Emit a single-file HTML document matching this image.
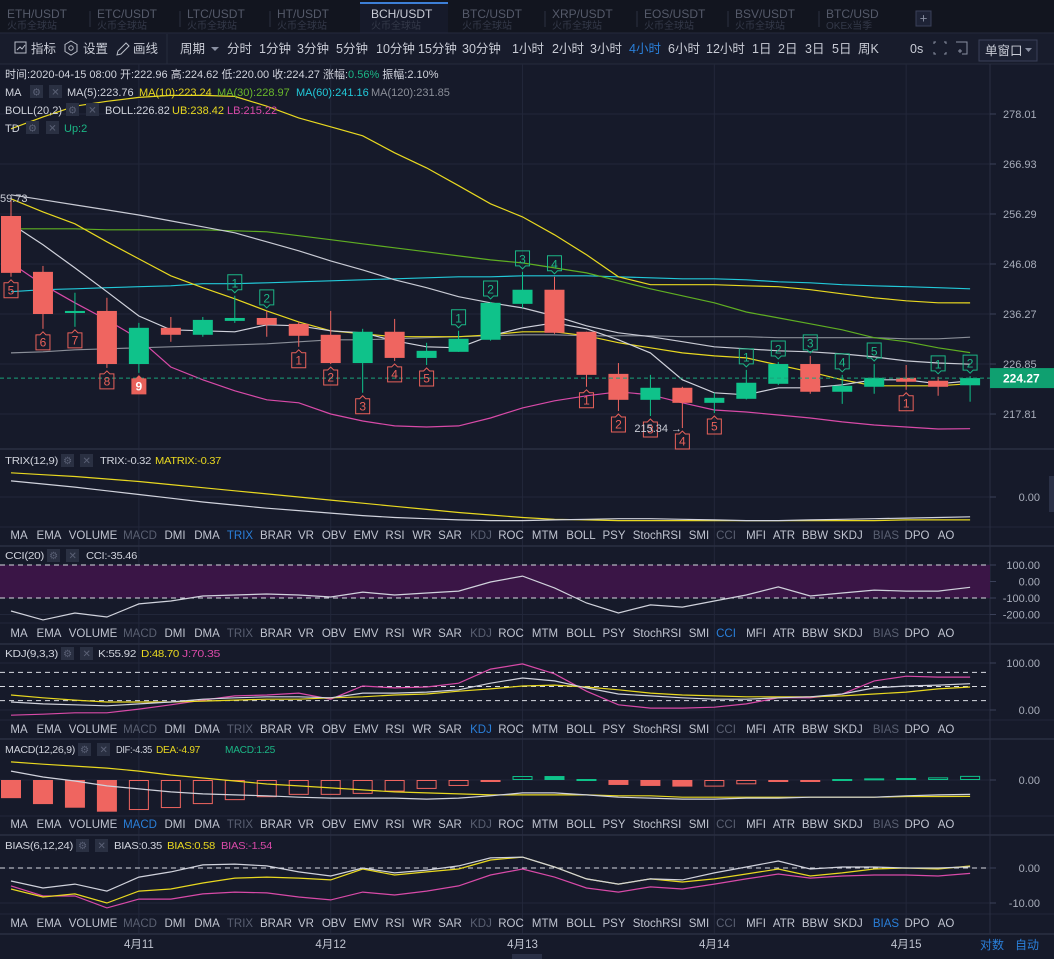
<!DOCTYPE html>
<html><head><meta charset="utf-8">
<style>
html,body{margin:0;padding:0;background:#161a2a;overflow:hidden}
svg{display:block;font-family:"Liberation Sans","Noto Sans CJK SC",sans-serif}
</style></head>
<body>
<svg id="chart" width="1054" height="959" viewBox="0 0 1054 959" xmlns="http://www.w3.org/2000/svg">
  <rect x="0" y="0" width="1054" height="959" fill="#161a2a"/>
  <g>
    <rect x="0" y="0" width="1054" height="33" fill="#12151f"/>
    <rect x="360" y="2" width="88" height="2" fill="#3d7fd6"/>
    <rect x="360" y="4" width="88" height="29" fill="#161a2a"/>
    <line x1="0" y1="33" x2="1054" y2="33" stroke="#262b3d"/>
  </g>
  <g id="tabs" font-size="12"></g>
  <rect x="916" y="11" width="15" height="15" fill="#1e2336" stroke="#3a4058"/>
  <text x="923.5" y="22.5" font-size="13" fill="#8a90a2" text-anchor="middle">+</text>
  <g>
    <rect x="0" y="34" width="1054" height="30" fill="#181c2c"/>
    <line x1="0" y1="64" x2="1054" y2="64" stroke="#262b3d"/>
    <line x1="167" y1="34" x2="167" y2="64" stroke="#262b3d"/>
    <rect x="15" y="42" width="11" height="11" fill="none" stroke="#b9bdc8"/>
    <polyline points="17,50 20,47 22,49 25,45" fill="none" stroke="#b9bdc8"/>
    <text x="31" y="53" font-size="12.5" fill="#c9ccd6">指标</text>
    <polygon points="71,41 77,44.5 77,51.5 71,55 65,51.5 65,44.5" fill="none" stroke="#b9bdc8"/>
    <circle cx="71" cy="48" r="2.2" fill="none" stroke="#b9bdc8"/>
    <text x="83" y="53" font-size="12.5" fill="#c9ccd6">设置</text>
    <path d="M117,55 L118,51 L126,43 L129,46 L121,54 Z" fill="none" stroke="#b9bdc8"/>
    <text x="133" y="53" font-size="12.5" fill="#c9ccd6">画线</text>
    <text x="180" y="53" font-size="12.5" fill="#c9ccd6">周期</text>
    <polygon points="211,47 219,47 215,51" fill="#8a90a2"/>
  </g>
  <g id="periods" font-size="12.5"></g>
  <text x="910" y="53" font-size="12.5" fill="#c9ccd6">0s</text>
  <g stroke="#8a90a2" fill="none">
    <path d="M934,44 v-2 h2 M944,42 h2 v2 M934,52 v2 h2 M944,54 h2 v-2"/>
  </g>
  <g stroke="#8a90a2" fill="none">
    <path d="M956,42 h11 v12 h-5 M958,51 h4 M960,49 v4"/>
  </g>
  <rect x="979" y="40" width="58" height="21" fill="#1c2133" stroke="#3a4058"/>
  <text x="985" y="55" font-size="12.5" fill="#c9ccd6">单窗口</text>
  <polygon points="1025,48 1032,48 1028.5,52" fill="#8a90a2"/>

  <g id="grid"></g>
  <rect x="0" y="565" width="990" height="33" fill="#3a1546"/>
  <g id="marks"></g>
  <g id="labels"></g>

  <g font-size="11" fill="#d0d3dc">
    <text x="5" y="78">时间:2020-04-15 08:00  开:222.96  高:224.62  低:220.00  收:224.27  涨幅:<tspan fill="#1bb585">0.56%</tspan>  振幅:2.10%</text>
  </g>
  <g font-size="11">
    <text x="5" y="96" fill="#d0d3dc">MA</text>
    <rect x="30" y="85" width="13" height="13" fill="#2a3042"/><text x="36.5" y="95.5" fill="#5a6075" font-size="10" text-anchor="middle">⚙</text>
    <rect x="49" y="85" width="13" height="13" fill="#2a3042"/><text x="55.5" y="95.5" fill="#5a6075" font-size="10" text-anchor="middle">✕</text>
    <text x="67" y="96" fill="#d0d3dc">MA(5):223.76</text>
    <text x="139" y="96" fill="#e8d820">MA(10):223.24</text>
    <text x="217" y="96" fill="#6ab82c">MA(30):228.97</text>
    <text x="296" y="96" fill="#22c8d8">MA(60):241.16</text>
    <text x="371" y="96" fill="#8a8e98">MA(120):231.85</text>
  </g>
  <g font-size="11">
    <text x="5" y="114" fill="#d0d3dc" textLength="57">BOLL(20,2)</text>
    <rect x="66" y="103" width="13" height="13" fill="#2a3042"/><text x="72.5" y="113.5" fill="#5a6075" font-size="10" text-anchor="middle">⚙</text>
    <rect x="86" y="103" width="13" height="13" fill="#2a3042"/><text x="92.5" y="113.5" fill="#5a6075" font-size="10" text-anchor="middle">✕</text>
    <text x="105" y="114" fill="#d0d3dc">BOLL:226.82</text>
    <text x="172" y="114" fill="#e8d820">UB:238.42</text>
    <text x="227" y="114" fill="#d84aa8">LB:215.22</text>
  </g>
  <g font-size="11">
    <text x="5" y="132" fill="#d0d3dc">TD</text>
    <rect x="26" y="121" width="13" height="13" fill="#2a3042"/><text x="32.5" y="131.5" fill="#5a6075" font-size="10" text-anchor="middle">⚙</text>
    <rect x="46" y="121" width="13" height="13" fill="#2a3042"/><text x="52.5" y="131.5" fill="#5a6075" font-size="10" text-anchor="middle">✕</text>
    <text x="64" y="132" fill="#1bb585">Up:2</text>
  </g>
  <g id="paneTitles" font-size="10.5" letter-spacing="-0.3"></g>
  <rect x="1049" y="476" width="5" height="36" fill="#2a3046"/>
  <text x="980" y="949" font-size="12" fill="#2a7fd9">对数</text>
  <text x="1015" y="949" font-size="12" fill="#2a7fd9">自动</text>
  <rect x="512" y="954" width="30" height="5" fill="#2a3046"/>
</svg>
<script>
const candleOpen  = [255.88,244.51,236.46,236.86,226.85,233.63,232.31,234.95,235.51,234.38,232.31,227.03,232.88,227.98,229.11,231.37,238.23,240.98,232.88,225.04,220.34,222.51,219.80,220.52,223.23,226.85,221.79,222.69,224.32,223.78,222.96];
const candleHigh  = [259.73,245.69,240.39,239.41,234.57,235.70,235.70,239.80,236.86,234.76,236.86,233.44,235.33,230.80,233.07,238.60,244.51,243.53,232.90,227.03,224.86,222.69,221.61,225.77,227.23,228.36,224.86,226.85,226.67,224.50,224.62];
const candleLow   = [243.53,233.44,233.82,226.13,225.22,230.99,231.94,234.57,231.94,230.05,226.85,221.61,227.42,226.67,229.11,231.20,237.45,232.50,222.69,218.35,217.46,215.34,217.99,220.40,223.00,221.43,219.62,221.43,222.15,221.07,220.00];
const candleClose = [244.31,236.27,236.86,226.85,233.63,232.31,235.14,235.51,234.20,232.12,227.03,232.88,227.98,229.30,231.56,238.43,240.98,232.69,224.86,220.34,222.51,219.80,220.70,223.42,226.85,221.79,222.87,224.32,223.60,222.69,224.27];
const ma5   = [254.25,249.96,245.30,240.59,235.89,233.26,233.07,232.88,234.20,234.01,233.07,232.69,231.18,230.05,229.86,232.12,233.63,234.57,233.44,231.37,228.92,223.96,221.61,221.25,222.51,222.51,223.05,223.96,223.96,223.23,223.76];
const ma10  = [259.48,256.72,254.25,250.57,247.10,243.73,241.37,239.21,236.86,234.76,233.07,232.50,231.94,231.94,231.94,232.31,232.88,232.88,232.12,230.81,229.86,228.92,228.36,227.98,226.67,225.40,223.96,222.87,222.87,222.87,223.24];
const ma30  = [253.23,253.23,253.23,253.02,253.02,253.02,253.02,252.82,252.61,251.80,250.98,250.16,249.35,248.53,247.71,246.90,246.29,245.30,244.31,242.74,241.17,239.80,238.43,236.66,235.52,234.39,233.26,231.75,231.00,229.86,228.97];
const ma60  = [240.59,240.98,241.17,241.37,241.57,241.76,242.16,242.16,242.35,242.55,242.74,242.94,243.14,243.33,243.53,243.53,243.73,243.73,243.73,243.53,243.33,243.14,243.14,242.94,242.55,242.35,241.96,241.76,241.57,241.37,241.16];
const ma120 = [228.92,229.11,229.49,229.68,229.86,230.05,230.24,230.43,230.62,230.99,231.37,231.37,231.56,231.75,231.94,232.12,232.31,232.31,232.12,232.12,232.12,231.94,231.94,231.94,231.75,231.75,231.75,231.75,231.56,231.56,231.85];
const bollMid = [260.33,259.27,258.20,257.14,256.09,254.86,253.64,252.41,250.57,248.73,246.69,244.90,242.94,241.37,239.61,238.43,237.45,235.89,234.01,232.69,231.94,231.00,230.05,229.68,229.30,229.11,228.73,228.17,227.42,227.04,226.82];
const bollUb  = [274.69,277.35,279.79,280.90,281.80,282.25,282.25,282.02,279.79,277.12,275.13,273.13,269.37,266.08,262.25,258.42,255.68,252.00,247.92,243.53,241.96,241.96,241.96,241.76,241.57,240.98,240.19,239.41,238.82,238.43,238.42];
const bollLb  = [246.28,241.96,238.43,235.14,231.56,226.31,223.96,221.97,220.34,219.80,217.81,216.58,215.71,215.53,215.71,217.11,218.89,220.16,221.07,221.79,221.25,219.80,218.53,218.17,217.64,217.11,216.41,215.88,215.53,215.18,215.22];
const tdDownIdx = [0,1,2,3,4,9,10,11,12,13,18,19,20,21,22,28];
const tdDownLbl = ['5','6','7','8','9','1','2','3','4','5','1','2','3','4','5','1'];
const tdUpIdx = [7,8,14,15,16,17,23,24,25,26,27,29,30];
const tdUpLbl = ['1','2','1','2','3','4','1','2','3','4','5','1','2'];
const priceTicks = [278.01,266.93,256.29,246.08,236.27,226.85,217.81];
const lastPrice = 224.27;
const dateLabels = ['4月11','4月12','4月13','4月14','4月15'];
const dateIdx = [4,10,16,22,28];
const trix   = [0.26,0.21,0.16,0.10,0.04,-0.02,-0.08,-0.13,-0.18,-0.22,-0.26,-0.30,-0.33,-0.35,-0.37,-0.38,-0.38,-0.37,-0.36,-0.35,-0.35,-0.36,-0.37,-0.38,-0.38,-0.37,-0.36,-0.35,-0.34,-0.33,-0.32];
const matrix = [0.39,0.36,0.33,0.29,0.25,0.20,0.15,0.10,0.05,0.00,-0.05,-0.10,-0.15,-0.20,-0.25,-0.29,-0.33,-0.36,-0.37,-0.38,-0.38,-0.38,-0.38,-0.38,-0.38,-0.38,-0.38,-0.38,-0.37,-0.37,-0.37];
const cci = [-179,-233,-191,-215,-136,-118,-88,-82,-76,-82,-94,-64,-82,-70,-58,-3,33,-39,-130,-191,-142,-155,-118,-82,-33,-88,-70,-52,-58,-58,-35];
const kdjK = [17,13,11,9,13,17,23,26,28,28,26,36,36,38,43,57,68,62,47,34,30,26,23,23,26,28,34,47,51,53,56];
const kdjD = [32,26,21,17,17,17,19,21,23,23,26,28,32,34,40,45,51,53,49,43,36,32,30,28,28,28,30,34,38,45,49];
const kdjJ = [-11,-9,-6,-6,2,11,21,30,32,36,23,51,47,49,57,87,98,77,40,11,4,4,6,13,26,26,34,62,72,70,70];
const macdHist = [-5.5,-7.3,-8.4,-9.6,-9.1,-8.5,-7.3,-6.1,-5.2,-4.5,-4.5,-4.2,-3.5,-2.7,-1.8,-0.6,1.2,1.2,0.3,-1.5,-1.8,-2.0,-2.0,-1.3,-0.4,-0.4,0.3,0.5,0.6,0.8,1.25];
const macdFilled = [1,1,1,1,0,0,0,0,0,0,0,0,0,0,0,1,0,1,1,1,1,1,0,0,1,1,1,0,0,0,0];
const macdDif = [2.7,0.9,-0.3,-1.8,-2.7,-3.6,-4.2,-4.5,-4.8,-5.2,-5.5,-5.5,-5.5,-5.8,-5.5,-4.8,-3.9,-3.9,-4.5,-5.2,-5.5,-5.8,-5.8,-5.5,-5.5,-5.2,-5.2,-5.2,-4.8,-4.5,-4.35];
const macdDea = [5.5,4.8,4.2,3.6,2.7,1.5,0.6,-0.3,-1.2,-1.8,-2.4,-3.0,-3.6,-3.9,-4.2,-4.5,-4.5,-4.5,-4.5,-4.8,-4.8,-5.2,-5.2,-5.2,-5.2,-5.2,-5.2,-5.2,-5.0,-5.0,-4.97];
const bias6  = [-3.7,-5.7,-4.6,-6.6,-2.6,-1.1,0.9,1.1,0.6,-1.1,-2.3,0,-1.4,-0.6,0.6,2.9,3.1,0.3,-3.1,-4.6,-3.1,-3.4,-1.4,0.3,2.0,-0.3,0.3,0.3,0,0,0.35];
const bias12 = [-6.0,-8.3,-7.4,-10.0,-6.6,-6.0,-4.3,-2.9,-2.6,-2.9,-3.4,-0.3,-2.0,-1.1,-0.3,2.3,3.1,0.3,-3.1,-4.6,-3.1,-4.0,-3.1,-1.7,-0.3,-2.3,-1.4,-0.3,0,-0.3,0.58];
const bias24 = [-5.1,-8.0,-8.0,-11.4,-8.9,-8.9,-7.4,-6.9,-7.1,-8.3,-9.1,-6.9,-7.7,-6.6,-5.1,-2.0,-0.3,-2.6,-5.7,-6.9,-5.4,-6.0,-4.6,-3.1,-1.7,-2.9,-2.3,-2.0,-2.0,-2.3,-1.54];
const tabNames = ['ETH/USDT','ETC/USDT','LTC/USDT','HT/USDT','BCH/USDT','BTC/USDT','XRP/USDT','EOS/USDT','BSV/USDT','BTC/USD'];
const tabSubs = ['火币全球站','火币全球站','火币全球站','火币全球站','火币全球站','火币全球站','火币全球站','火币全球站','火币全球站','OKEx当季'];
const periodNames = ['分时','1分钟','3分钟','5分钟','10分钟','15分钟','30分钟','1小时','2小时','3小时','4小时','6小时','12小时','1日','2日','3日','5日','周K'];
const indNames = ['MA','EMA','VOLUME','MACD','DMI','DMA','TRIX','BRAR','VR','OBV','EMV','RSI','WR','SAR','KDJ','ROC','MTM','BOLL','PSY','StochRSI','SMI','CCI','MFI','ATR','BBW','SKDJ','BIAS','DPO','AO'];
</script>
<script>
const NS='http://www.w3.org/2000/svg';
function mk(parent,tag,attrs,txt){const e=document.createElementNS(NS,tag);for(const k in attrs)e.setAttribute(k,attrs[k]);if(txt!==undefined)e.textContent=txt;parent.appendChild(e);return e;}
const X = i => 11 + i*31.97;
const LN0 = Math.log(278.01), K = 0.0008134;
const yP = p => 114 + (LN0 - Math.log(p))/K;
const yTrix = v => 497 - v*62;
const yCci = v => 581.5 - v*0.165;
const yKdj = v => 710 - v*0.47;
const yMacd = v => 780 - v*3.3;
const yBias = v => 868 - v*3.5;
const RED='#ef6560', GREEN='#0fc28a';

const tabs=document.getElementById('tabs');
const tabX=[7,97,187,277,371,462,552,644,735,826];
tabNames.forEach((n,i)=>{
  const g=mk(tabs,'g',{});
  
  
  mk(g,'text',{x:tabX[i],y:18,fill:i===4?'#c9ccd6':'#555a6a','font-size':12},n);
  mk(g,'text',{x:tabX[i],y:29,fill:'#343949','font-size':10},tabSubs[i]);
  if(i>0&&i!==4&&i!==5) mk(tabs,'line',{x1:tabX[i]-7,y1:11,x2:tabX[i]-7,y2:27,stroke:'#2c3142'});
});
const per=document.getElementById('periods');
const perX=[227,259,297,336,376,418,462,512,552,590,629,668,706,752,778,805,832,858];
periodNames.forEach((n,i)=>{
  const t=mk(per,'text',{x:perX[i],y:53,fill:n==='4小时'?'#2a7fd9':'#c9ccd6'},n);
  
  
});

const grid=document.getElementById('grid');
const GC='#22273a';
priceTicks.forEach(p=>{const l=mk(grid,'line',{x1:0,x2:990,y1:yP(p),y2:yP(p),stroke:GC});});
dateIdx.forEach(i=>{const l=mk(grid,'line',{x1:X(i),x2:X(i),y1:64,y2:934,stroke:GC});});
[[497],[565,581.5,598,614.5],[663,710],[780],[868,903]].flat().forEach(y=>mk(grid,'line',{x1:0,x2:990,y1:y,y2:y,stroke:GC}));
[[449,1],[527,0],[546,1],[623,0],[644,1],[720,0],[739,1],[816,0],[835,1],[914,0],[934,1]].forEach(([y,s])=>mk(grid,'line',{x1:0,x2:1054,y1:y,y2:y,stroke:s?'#2a2f42':'#22273a','stroke-width':s?1.5:1}));
mk(grid,'line',{x1:990,x2:990,y1:64,y2:934,stroke:'#2a2f42'});

const marks=document.getElementById('marks');
const labels=document.getElementById('labels');
function line(arr,yf,color,name,w){
  const pts=arr.map((v,i)=>X(i).toFixed(1)+','+yf(v).toFixed(1)).join(' ');
  const p=mk(marks,'polyline',{points:pts,fill:'none',stroke:color,'stroke-width':w||1.2});
  
  
}
line(ma120,yP,'#8a8e98','ma120-line');
line(ma60,yP,'#22c8d8','ma60-line');
line(ma30,yP,'#5fae22','ma30-line');
line(bollUb,yP,'#e8d820','boll-ub-line');
line(bollLb,yP,'#d84aa8','boll-lb-line');
line(bollMid,yP,'#c8cad4','boll-mid-line');
line(ma10,yP,'#e8d820','ma10-line');
line(ma5,yP,'#d0d2dc','ma5-line');
candleOpen.forEach((o,i)=>{
  const c=candleClose[i], up=c>=o, col=up?GREEN:RED, x=X(i);
  const g=mk(marks,'g',{});
  
  
  mk(g,'line',{x1:x,x2:x,y1:yP(candleHigh[i]),y2:yP(candleLow[i]),stroke:col,'stroke-width':1});
  const t=yP(Math.max(o,c)), b=yP(Math.min(o,c));
  mk(g,'rect',{x:x-10,y:t,width:20,height:Math.max(1.5,b-t),fill:col});
});
const lpY=yP(lastPrice);
const cl=mk(marks,'line',{x1:0,x2:990,y1:lpY,y2:lpY,stroke:'#1aa27a','stroke-dasharray':'4,3'});


const tag=mk(labels,'rect',{x:990,y:lpY-10,width:64,height:20,fill:'#0fa070'});


mk(labels,'text',{x:1003,y:lpY+4.5,fill:'#ffffff','font-size':12,'font-weight':'bold'},lastPrice.toFixed(2));
function tdBox(i,lbl,down,filled){
  const x=X(i), col=down?'#e8615a':'#1bb585';
  const cy=down? yP(candleLow[i])+13 : yP(candleHigh[i])-13;
  const g=mk(marks,'g',{});
  
  
  if(down){
    mk(g,'path',{d:`M${x-7},${cy-7} h4 l3,-3 l3,3 h4 v15 h-14 z`,fill:filled?col:'none',stroke:col,'stroke-width':1});
  } else {
    mk(g,'path',{d:`M${x-7},${cy-8} h14 v15 h-4 l-3,3 l-3,-3 h-4 z`,fill:'none',stroke:col,'stroke-width':1});
  }
  mk(g,'text',{x:x,y:cy+4.5,'text-anchor':'middle','font-size':12,'font-weight':filled?'bold':'normal',fill:filled?'#fff':col},lbl);
}
tdDownIdx.forEach((idx,k)=>tdBox(idx,tdDownLbl[k],true,tdDownLbl[k]==='9'));
tdUpIdx.forEach((idx,k)=>tdBox(idx,tdUpLbl[k],false,false));
mk(labels,'text',{x:0,y:202,fill:'#c9ccd6','font-size':11},candleHigh[0].toFixed(2).slice(1));
const li=candleLow.indexOf(Math.min(...candleLow));
mk(labels,'text',{x:X(li)-48,y:yP(candleLow[li])+4,fill:'#c9ccd6','font-size':11},candleLow[li].toFixed(2)+' →');
priceTicks.forEach(p=>{
  mk(labels,'line',{x1:990,x2:996,y1:yP(p),y2:yP(p),stroke:'#3a4058'});
  const t=mk(labels,'text',{x:1003,y:yP(p)+4,fill:'#a8adba','font-size':11},p.toFixed(2));
  
  
});
function axisLbl(v,y,txt){mk(labels,'line',{x1:990,x2:996,y1:y,y2:y,stroke:'#3a4058'});mk(labels,'text',{x:1040,y:y+4,fill:'#a8adba','font-size':11,'text-anchor':'end'},txt);}
axisLbl(0,yTrix(0),'0.00');
[100,0,-100,-200].forEach(v=>axisLbl(v,yCci(v),v.toFixed(2)));
[100,0].forEach(v=>axisLbl(v,yKdj(v),v.toFixed(2)));
axisLbl(0,yMacd(0),'0.00');
[0,-10].forEach(v=>axisLbl(v,yBias(v),v.toFixed(2)));
function dash(y,name){const l=mk(marks,'line',{x1:0,x2:990,y1:y,y2:y,stroke:'#d8dae2','stroke-dasharray':'5,4'});}
dash(yCci(100),'cci-upper-ref');dash(yCci(-100),'cci-lower-ref');
dash(yKdj(80),'kdj-80-ref');dash(yKdj(50),'kdj-50-ref');dash(yKdj(20),'kdj-20-ref');
dash(yBias(0),'bias-zero-ref');
line(matrix,yTrix,'#e8d820','matrix-line');
line(trix,yTrix,'#d0d2dc','trix-line');
line(cci,yCci,'#d0d2dc','cci-line');
line(kdjJ,yKdj,'#d84aa8','kdj-j-line');
line(kdjD,yKdj,'#e8d820','kdj-d-line');
line(kdjK,yKdj,'#d0d2dc','kdj-k-line');
macdHist.forEach((v,i)=>{
  const col=v>=0?GREEN:RED, y0=yMacd(0), y1=yMacd(v);
  const t=Math.min(y0,y1), h=Math.max(2,Math.abs(y1-y0));
  const r=macdFilled[i]?mk(marks,'rect',{x:X(i)-10,y:t,width:20,height:h,fill:col}):mk(marks,'rect',{x:X(i)-9.5,y:t+0.5,width:19,height:h-1,fill:'none',stroke:col});
  
  
});
line(macdDea,yMacd,'#e8d820','macd-dea-line');
line(macdDif,yMacd,'#d0d2dc','macd-dif-line');
line(bias24,yBias,'#d84aa8','bias24-line');
line(bias12,yBias,'#e8d820','bias12-line');
line(bias6,yBias,'#d0d2dc','bias6-line');
const indX=[19,49,93,140,175,207,240,276,306,334,366,395,422,450,481,511,545,581,614,657,699,726,756,784,815,848,886,917,946];
const rows=[[535,'TRIX'],[633,'CCI'],[729,'KDJ'],[824,'MACD'],[923,'BIAS']];
const dimSet=['MACD','TRIX','KDJ','CCI','BIAS'];
rows.forEach(([y,act])=>{
  indNames.forEach((n,i)=>{
    const c=n===act?'#2a7fd9':(dimSet.includes(n)?'#5a6072':'#c0c4d0');
    const t=mk(labels,'text',{x:indX[i],y:y+4,'text-anchor':'middle','font-size':11.5,fill:c},n);
    
    
  });
});
dateIdx.forEach((idx,k)=>{
  const t=mk(labels,'text',{x:X(idx),y:948,'text-anchor':'middle','font-size':11.5,fill:'#c0c4d0'},dateLabels[k]);
  
  
});
const pt=document.getElementById('paneTitles');
function title(y,name,gx,items){
  mk(pt,'text',{x:5,y:y+4,fill:'#d0d3dc',textLength:gx-8,lengthAdjust:'spacingAndGlyphs'},name);
  mk(pt,'rect',{x:gx,y:y-6,width:13,height:13,fill:'#2a3042'});
  mk(pt,'text',{x:gx+6.5,y:y+4,fill:'#5a6075','font-size':10,'text-anchor':'middle'},'⚙');
  mk(pt,'rect',{x:gx+19,y:y-6,width:13,height:13,fill:'#2a3042'});
  mk(pt,'text',{x:gx+25.5,y:y+4,fill:'#5a6075','font-size':10,'text-anchor':'middle'},'✕');
  items.forEach(([x,c,t,w])=>mk(pt,'text',{x:x,y:y+4,fill:c,textLength:w,lengthAdjust:'spacingAndGlyphs'},t));
}
title(460,'TRIX(12,9)',61,[[100,'#d0d3dc','TRIX:-0.32',51],[155,'#e8d820','MATRIX:-0.37',66]]);
title(555,'CCI(20)',47,[[86,'#d0d3dc','CCI:-35.46',51]]);
title(653,'KDJ(9,3,3)',61,[[98,'#d0d3dc','K:55.92',38],[141,'#e8d820','D:48.70',38],[182,'#d84aa8','J:70.35',38]]);
title(749,'MACD(12,26,9)',78,[[116,'#d0d3dc','DIF:-4.35',36],[156,'#e8d820','DEA:-4.97',44],[225,'#1bb585','MACD:1.25',50]]);
title(845,'BIAS(6,12,24)',76,[[114,'#d0d3dc','BIAS:0.35',48],[167,'#e8d820','BIAS:0.58',48],[221,'#d84aa8','BIAS:-1.54',51]]);
</script>
</body></html>
